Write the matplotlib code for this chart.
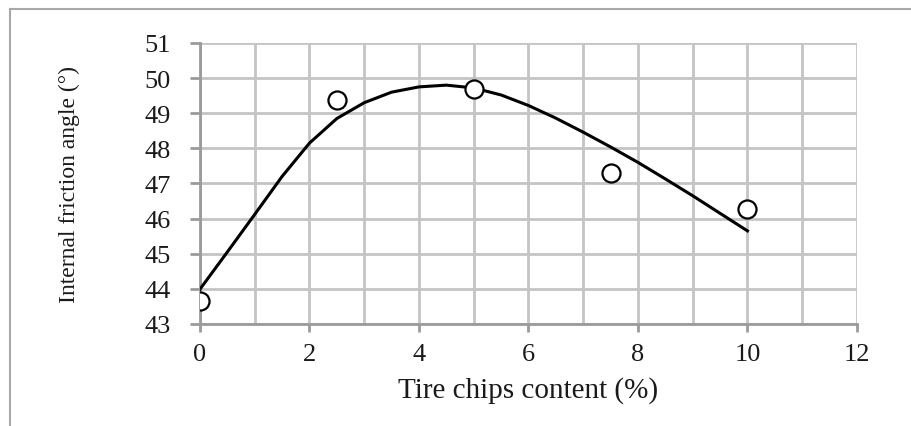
import matplotlib.pyplot as plt
from matplotlib.lines import Line2D
from matplotlib.ticker import MultipleLocator

# measured points
tire_chips = [0, 2.5, 5, 7.5, 10]
friction_angle = [43.65, 49.37, 49.69, 47.31, 46.26]

# trend curve
curve_x = [0, 0.5, 1.0, 1.5, 2.0, 2.5, 3.0, 3.5, 4.0, 4.5, 5.0,
           5.5, 6.0, 6.5, 7.0, 7.5, 8.0, 8.5, 9.0, 9.5, 10.0]
curve_y = [43.99, 45.05, 46.12, 47.2, 48.15, 48.85, 49.3, 49.6, 49.75, 49.8, 49.72,
           49.52, 49.22, 48.86, 48.46, 48.04, 47.6, 47.13, 46.65, 46.15, 45.65]

x_ticks = [0, 2, 4, 6, 8, 10, 12]
y_ticks = [43, 44, 45, 46, 47, 48, 49, 50, 51]

plt.rcParams['font.family'] = ['Liberation Serif', 'DejaVu Serif']

fig = plt.figure(figsize=(9.11, 4.27), dpi=100)
ax = fig.add_axes([0.2195, 0.2389, 0.7212, 0.6581])

ax.plot(curve_x, curve_y, color='black', lw=2.2, solid_joinstyle='round', zorder=3)
ax.plot(tire_chips, friction_angle, ls='none', marker='o', ms=13, mfc='white',
        mec='black', mew=1.6, zorder=4)

ax.set_xlim(0, 12)
ax.set_ylim(43, 51)
ax.set_xticks(x_ticks)
ax.set_yticks(y_ticks)
ax.xaxis.set_minor_locator(MultipleLocator(1))
ax.grid(True, which='both', color='#c4c4c4', lw=2)
ax.set_axisbelow(True)

for s in ['top', 'right']:
    ax.spines[s].set_visible(False)
for s in ['left', 'bottom']:
    ax.spines[s].set_color('#9a9a9a')
    ax.spines[s].set_linewidth(2)

ax.tick_params(axis='x', which='major', length=6, width=2, color='#9a9a9a',
               pad=8, labelsize=19, labelcolor='#1a1a1a')
ax.tick_params(axis='x', which='minor', length=0)
ax.tick_params(axis='y', length=7, width=2, color='#9a9a9a', pad=14,
               labelsize=19, labelcolor='#1a1a1a')

ax.set_xlabel('Tire chips content (%)', fontsize=21, color='#1a1a1a')
ax.set_ylabel('Internal friction angle (°)', fontsize=17, color='#1a1a1a')
ax.xaxis.set_label_coords(0.5, -0.185)
ax.yaxis.set_label_coords(-0.183, 0.5)

# outer frame (only top and left visible)
fig.add_artist(Line2D([10 / 911, 10 / 911], [0, 1 - 10 / 427], color='#a8a8a8', lw=1.5))
fig.add_artist(Line2D([10 / 911, 1], [1 - 10 / 427, 1 - 10 / 427], color='#a8a8a8', lw=1.5))

fig.savefig('out.png', dpi=100)
